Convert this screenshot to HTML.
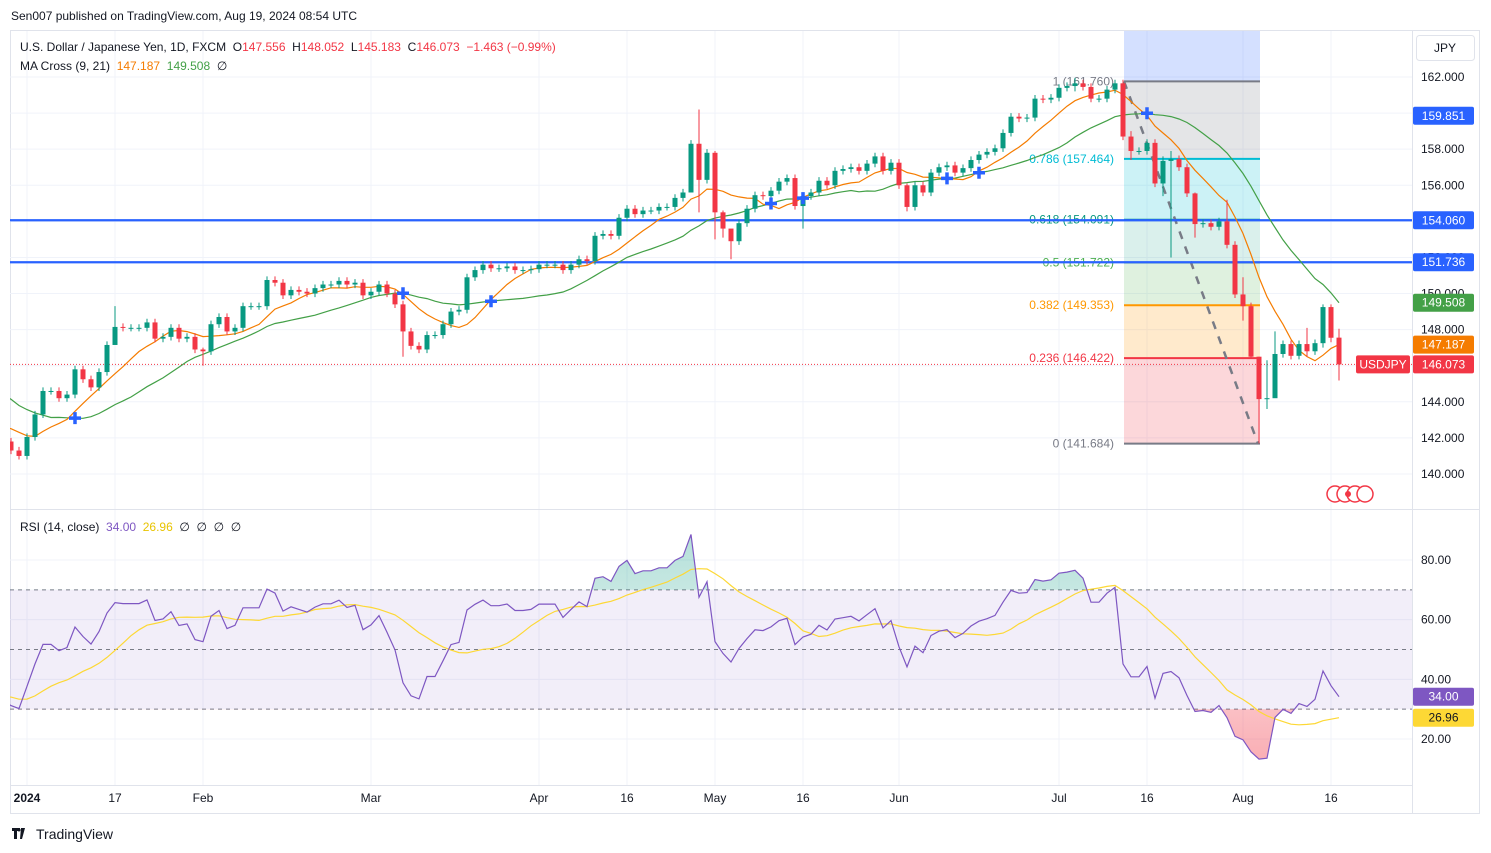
<!DOCTYPE html>
<html><head><meta charset="utf-8"><style>
html,body{margin:0;padding:0;background:#fff;}
svg{display:block;font-family:"Liberation Sans",sans-serif;}
.pre{white-space:pre;}
</style></head><body>
<svg id="chart" width="1491" height="853" viewBox="0 0 1491 853" xmlns="http://www.w3.org/2000/svg">
<defs>
<clipPath id="pclip"><rect x="10" y="31" width="1402" height="477"/></clipPath>
<clipPath id="rclip"><rect x="10" y="511" width="1402" height="273"/></clipPath>
<linearGradient id="obg" x1="0" y1="0" x2="0" y2="1"><stop offset="0" stop-color="#089981" stop-opacity="0.3"/><stop offset="1" stop-color="#089981" stop-opacity="0.02"/></linearGradient>
<linearGradient id="osg" x1="0" y1="0" x2="0" y2="1"><stop offset="0" stop-color="#f23645" stop-opacity="0.02"/><stop offset="1" stop-color="#f23645" stop-opacity="0.4"/></linearGradient>
</defs>
<text x="11" y="20" font-size="12" fill="#131722">Sen007 published on TradingView.com, Aug 19, 2024 08:54 UTC</text>
<rect x="10.5" y="30.5" width="1469" height="783" fill="none" stroke="#e0e3eb"/>
<g id="grid"></g>
<g id="price"></g>
<g id="rsi"></g>
<g id="axes"></g>
<line x1="10" y1="509.5" x2="1480" y2="509.5" stroke="#e0e3eb"/>
<line x1="10" y1="785.5" x2="1412" y2="785.5" stroke="#e0e3eb"/>
<line x1="1412.5" y1="30" x2="1412.5" y2="813" stroke="#e0e3eb"/>
<g><rect x="1416.5" y="35.5" width="58" height="25" rx="3" fill="#fff" stroke="#e0e3eb"/><text x="1445" y="52" font-size="12" text-anchor="middle" fill="#131722">JPY</text></g>
<text class="pre" x="20" y="51" font-size="12" fill="#131722">U.S. Dollar / Japanese Yen, 1D, FXCM  O<tspan fill="#f23645">147.556</tspan>  H<tspan fill="#f23645">148.052</tspan>  L<tspan fill="#f23645">145.183</tspan>  C<tspan fill="#f23645">146.073</tspan>  <tspan fill="#f23645">−1.463 (−0.99%)</tspan></text>
<text class="pre" x="20" y="70" font-size="12" fill="#131722">MA Cross (9, 21)  <tspan fill="#f57c00">147.187</tspan>  <tspan fill="#43a047">149.508</tspan>  ∅</text>
<text class="pre" x="20" y="531" font-size="12" fill="#131722">RSI (14, close)  <tspan fill="#7e57c2">34.00</tspan>  <tspan fill="#e8c300">26.96</tspan>  ∅  ∅  ∅  ∅</text>
<g><path d="M12 828h8v3h-3v8h-3v-8h-2z M21 828h4l-3 11h-2z" fill="#131722"/><circle cx="19" cy="830" r="1.5" fill="#131722"/><text x="36" y="839" font-size="14" fill="#131722">TradingView</text></g>
</svg>
<script>
const closes = [
150.9,150.4,149.4,150.0,150.4,150.9,151.3,151.5,151.7,150.4,151.4,150.7,149.6,148.4,148.4,149.5,149.6,149.4,148.7,147.5,147.2,148.2,
146.8,147.2,147.2,147.3,144.1,144.9,146.2,145.4,142.9,141.9,142.2,142.8,143.8,143.6,142.1,142.4,142.4,142.4,141.8,141.3,141.0,
142.05,143.3,144.6,144.6,144.2,144.4,145.8,145.25,144.8,145.65,147.15,148.15,148.1,148.1,148.1,148.4,147.5,147.6,148.1,147.5,147.6,146.9,
146.8,148.3,148.7,147.9,148.1,149.3,149.3,149.3,150.75,150.6,149.9,150.2,150.1,150.0,150.3,150.5,150.5,150.7,150.5,150.6,149.9,
150.1,150.5,150.0,149.4,147.9,147.1,146.9,147.7,147.7,148.3,149.0,149.1,150.9,151.3,151.6,151.4,151.4,151.5,151.3,151.3,151.35,
151.6,151.6,151.6,151.3,151.6,151.9,151.8,153.2,153.3,153.2,154.2,154.7,154.4,154.6,154.6,154.8,154.8,155.3,155.6,158.3,156.3,157.8,
154.5,153.6,152.9,153.9,154.7,155.45,155.4,155.7,156.2,156.4,154.85,155.4,155.6,156.25,156.0,156.8,156.9,157.0,156.8,157.2,157.6,156.8,157.25,
156.0,154.8,156.0,155.6,156.7,157.0,157.1,156.7,156.95,157.4,157.7,157.85,158.05,158.9,159.8,159.7,159.75,160.8,160.75,160.85,
161.4,161.5,161.65,161.45,160.8,160.8,161.3,161.65,158.7,157.9,157.9,158.35,156.1,157.35,157.45,157.0,155.55,153.85,153.9,153.7,154.0,152.7,149.95,
149.3,146.5,144.15,144.2,146.65,147.2,146.55,147.2,146.8,147.25,149.25,147.55,146.073];
const lastOpen = 147.556;
const extremeDates = ['2024-01-17','2024-02-01','2024-03-07','2024-04-26','2024-04-29','2024-05-01','2024-05-02','2024-05-03','2024-05-16','2024-06-04','2024-07-03','2024-07-12','2024-07-18','2024-07-19','2024-07-24','2024-07-30','2024-08-01','2024-08-02','2024-08-05','2024-08-06','2024-08-07','2024-08-13','2024-08-15','2024-08-16','2024-08-19'];
const extremeHighs = [149.3,147.0,149.6,158.5,160.2,157.9,154.6,153.2,155.5,156.1,161.95,159.0,157.6,157.9,155.6,155.2,150.9,149.5,146.5,146.3,147.9,148.1,149.4,149.4,148.052];
const extremeLows = [147.6,146.0,146.5,155.6,154.5,153.0,153.1,151.9,153.6,154.55,161.2,157.4,155.4,152.0,153.1,152.5,148.5,146.4,141.7,143.6,145.5,146.5,147.0,147.3,145.183];
const priceTicks = [140,142,144,146,148,150,152,154,156,158,160,162];
const rsiTicks = [20,40,60,80];
const hLines = [154.060, 151.736];
const fibRatios = [1,0.786,0.618,0.5,0.382,0.236,0];
const fibPrices = [161.760,157.464,154.091,151.722,149.353,146.422,141.684];
const fibColors = ['#787b86','#00bcd4','#089981','#4caf50','#ff9800','#f23645','#787b86'];
const fibFills = ['rgba(120,123,134,0.2)','rgba(0,188,212,0.2)','rgba(8,153,129,0.15)','rgba(76,175,80,0.18)','rgba(255,152,0,0.2)','rgba(242,54,69,0.2)'];
const fibStart = '2024-07-11', fibEnd = '2024-08-05';
const timeLabels = ['2024','17','Feb','Mar','Apr','16','May','16','Jun','Jul','16','Aug','16'];
const timeDates = ['2024-01-02','2024-01-17','2024-02-01','2024-03-01','2024-04-01','2024-04-16','2024-05-01','2024-05-16','2024-06-03','2024-07-01','2024-07-16','2024-08-01','2024-08-16'];
const tagLabels = ['159.851','149.508','147.187','34.00','26.96'];
const tagPrices = [159.851];

const dates = [];
(function(){let d=new Date(Date.UTC(2023,10,1));while(dates.length<closes.length){const w=d.getUTCDay();const s=d.toISOString().slice(0,10);if(w!==0&&w!==6&&s!=='2024-01-01')dates.push(s);d=new Date(d.getTime()+86400000);}})();
const i0 = dates.indexOf('2024-01-02');
const X = i => 27 + 8*(i - i0);
const PY = p => 77 + (162 - p)*18.045;
const RY = v => 560 + (80 - v)*(179/60);
const NS='http://www.w3.org/2000/svg';
function mk(tag, attrs, parent){const e=document.createElementNS(NS,tag);for(const k in attrs)e.setAttribute(k,attrs[k]);parent.appendChild(e);return e;}
const grid=document.getElementById('grid'), price=document.getElementById('price'), rsiG=document.getElementById('rsi'), axes=document.getElementById('axes');

priceTicks.forEach(p=>{
  const l=mk('line',{x1:10,x2:1412,y1:PY(p),y2:PY(p),stroke:'#f0f3fa'},grid);
  
  
  const t=mk('text',{x:1421,y:PY(p)+4,'font-size':12,fill:'#131722'},axes);t.textContent=p.toFixed(3);
  
  
});
rsiTicks.forEach(v=>{
  const l=mk('line',{x1:10,x2:1412,y1:RY(v),y2:RY(v),stroke:'#f0f3fa'},grid);
  
  
  const t=mk('text',{x:1421,y:RY(v)+4,'font-size':12,fill:'#131722'},axes);t.textContent=v.toFixed(2);
  
  
});
timeLabels.forEach((lab,k)=>{
  const x=X(dates.indexOf(timeDates[k]));
  const l=mk('line',{x1:x,x2:x,y1:31,y2:785,stroke:'#f0f3fa'},grid);
  
  
  const t=mk('text',{x:x,y:802,'font-size':12,fill:'#131722','text-anchor':'middle','font-weight':k===0?'bold':'normal'},axes);t.textContent=lab;
  
  
});

const pc=mk('g',{'clip-path':'url(#pclip)'},price);
const fx1=X(dates.indexOf(fibStart))+1, fx2=X(dates.indexOf(fibEnd))+1;
const fTop=mk('rect',{x:fx1,y:31,width:fx2-fx1,height:PY(fibPrices[0])-31,fill:'rgba(41,98,255,0.2)'},pc);


for(let k=0;k<fibPrices.length-1;k++){
  const r=mk('rect',{x:fx1,y:PY(fibPrices[k]),width:fx2-fx1,height:PY(fibPrices[k+1])-PY(fibPrices[k]),fill:fibFills[k]},pc);
  
  
}
fibRatios.forEach((r,k)=>{
  const y=PY(fibPrices[k]);
  const l=mk('line',{x1:fx1,x2:fx2,y1:y,y2:y,stroke:fibColors[k],'stroke-width':2},pc);
  
  
  const t=mk('text',{x:fx1-10,y:y+4,'font-size':12,fill:fibColors[k],'text-anchor':'end'},pc);
  t.textContent=r+' ('+fibPrices[k].toFixed(3)+')';
  
  
});
const tl=mk('line',{x1:fx1,y1:PY(fibPrices[0]),x2:fx2-2,y2:PY(fibPrices[6]),stroke:'#787b86','stroke-width':2.5,'stroke-dasharray':'8,8'},pc);


hLines.forEach(p=>{
  const l=mk('line',{x1:10,x2:1412,y1:PY(p),y2:PY(p),stroke:'#2962ff','stroke-width':2.2},pc);
  
  
});
const lp=mk('line',{x1:10,x2:1412,y1:PY(closes[closes.length-1]),y2:PY(closes[closes.length-1]),stroke:'#f23645','stroke-dasharray':'1,2'},pc);


function sma(arr,n){return arr.map((v,i)=>i<n-1?null:arr.slice(i-n+1,i+1).reduce((a,b)=>a+b,0)/n);}
const ma9=sma(closes,9), ma21=sma(closes,21);
function path(arr,Y){let d='';arr.forEach((v,i)=>{if(v==null||X(i)<-10)return;d+=(d?'L':'M')+X(i).toFixed(1)+','+Y(v).toFixed(1);});return d;}
const m21=mk('path',{d:path(ma21,PY),fill:'none',stroke:'#43a047','stroke-width':1.2},pc);


const m9=mk('path',{d:path(ma9,PY),fill:'none',stroke:'#f57c00','stroke-width':1.2},pc);


closes.forEach((c,i)=>{
  const x=X(i); if(x<0) return;
  const o = i===closes.length-1 ? lastOpen : closes[i-1];
  const e=extremeDates.indexOf(dates[i]);
  let h=Math.max(o,c)+0.2, l=Math.min(o,c)-0.2;
  if(e>=0){h=extremeHighs[e];l=extremeLows[e];}
  const col=c>=o?'#089981':'#f23645';
  const g=mk('g',{},pc);
  
  
  mk('line',{x1:x,x2:x,y1:PY(h),y2:PY(l),stroke:col,'stroke-width':1},g);
  const yt=PY(Math.max(o,c)), yb=PY(Math.min(o,c));
  mk('rect',{x:x-2.5,y:yt,width:5,height:Math.max(1,yb-yt),fill:col},g);
});
for(let i=1;i<closes.length;i++){
  if(ma9[i-1]==null||ma21[i-1]==null) continue;
  const a=ma9[i-1]-ma21[i-1], b=ma9[i]-ma21[i];
  if((a<0)!==(b<0) && X(i)>10){
    const x=X(i), y=PY(ma21[i]);
    const cr=mk('path',{d:`M${x-6},${y}H${x+6}M${x},${y-6}V${y+6}`,stroke:'#2962ff','stroke-width':3.5},pc);
    
    
  }
}
const ev=mk('g',{},price);


[1329,1339,1349,1359].forEach((x,k)=>{mk('circle',{cx:x+6,cy:494,r:8,fill:'#fff',stroke:'#f23645','stroke-width':1.5},ev);});
mk('circle',{cx:1348,cy:494,r:3,fill:'#f23645'},ev);

let ag=0,al=0;const rsi=closes.map(()=>null);
for(let i=1;i<closes.length;i++){const ch=closes[i]-closes[i-1];const g=Math.max(ch,0),l=Math.max(-ch,0);
  if(i<=14){ag+=g/14;al+=l/14;if(i===14)rsi[i]=100-100/(1+ag/(al||1e-9));}
  else{ag=(ag*13+g)/14;al=(al*13+l)/14;rsi[i]=100-100/(1+ag/(al||1e-9));}}
const rsiMa=rsi.map((v,i)=>{if(i<27)return null;const s=rsi.slice(i-13,i+1);return s.reduce((a,b)=>a+b,0)/14;});
const rc=mk('g',{'clip-path':'url(#rclip)'},rsiG);
const band=mk('rect',{x:10,y:RY(70),width:1402,height:RY(30)-RY(70),fill:'rgba(126,87,194,0.1)'},rc);


[70,50,30].forEach(v=>{
  const l=mk('line',{x1:10,x2:1412,y1:RY(v),y2:RY(v),stroke:'#787b86','stroke-dasharray':'4,4'},rc);
  
  
});
const rd=path(rsi,RY);
const fi=rsi.findIndex((v,i)=>v!=null&&X(i)>-10);
const li=rsi.length-1;
const cpa=mk('clipPath',{id:'obc'},rc); mk('rect',{x:10,y:511,width:1402,height:RY(70)-511},cpa);
const cpb=mk('clipPath',{id:'osc'},rc); mk('rect',{x:10,y:RY(30),width:1402,height:784-RY(30)},cpb);
const ob=mk('path',{d:rd+`L${X(li)},${RY(70)}L${X(fi)},${RY(70)}Z`,fill:'url(#obg)','clip-path':'url(#obc)'},rc);


const os=mk('path',{d:rd+`L${X(li)},${RY(30)}L${X(fi)},${RY(30)}Z`,fill:'url(#osg)','clip-path':'url(#osc)'},rc);


const rm=mk('path',{d:path(rsiMa,RY),fill:'none',stroke:'#fdd835','stroke-width':1.2},rc);


const rl=mk('path',{d:rd,fill:'none',stroke:'#7e57c2','stroke-width':1.2},rc);



function tag(y,txt,bg,fg,name){
  const g=mk('g',{},axes);
  
  
  mk('rect',{x:1413,y:y-9,width:61,height:18,rx:2,fill:bg},g);
  const t=mk('text',{x:1443.5,y:y+4,'font-size':12,fill:fg,'text-anchor':'middle'},g);t.textContent=txt;
}
tag(PY(tagPrices[0]),tagLabels[0],'#2962ff','#fff','crossover-price-tag');
tag(PY(hLines[0]),hLines[0].toFixed(3),'#2962ff','#fff','level-tag-1');
tag(PY(hLines[1]),hLines[1].toFixed(3),'#2962ff','#fff','level-tag-2');
tag(PY(ma21[li]),tagLabels[1],'#43a047','#fff','ma21-tag');
tag(PY(ma9[li]),tagLabels[2],'#f57c00','#fff','ma9-tag');
tag(PY(closes[li]),closes[li].toFixed(3),'#f23645','#fff','last-price-tag');
const sym=mk('g',{},axes);


mk('rect',{x:1356,y:PY(closes[li])-9,width:54,height:18,rx:2,fill:'#f23645'},sym);
const st=mk('text',{x:1383,y:PY(closes[li])+4,'font-size':12,fill:'#fff','text-anchor':'middle'},sym);st.textContent='USDJPY';
tag(RY(rsi[li]),tagLabels[3],'#7e57c2','#fff','rsi-tag');
tag(RY(rsiMa[li]),tagLabels[4],'#fdd835','#131722','rsi-ma-tag');
</script>
</body></html>
